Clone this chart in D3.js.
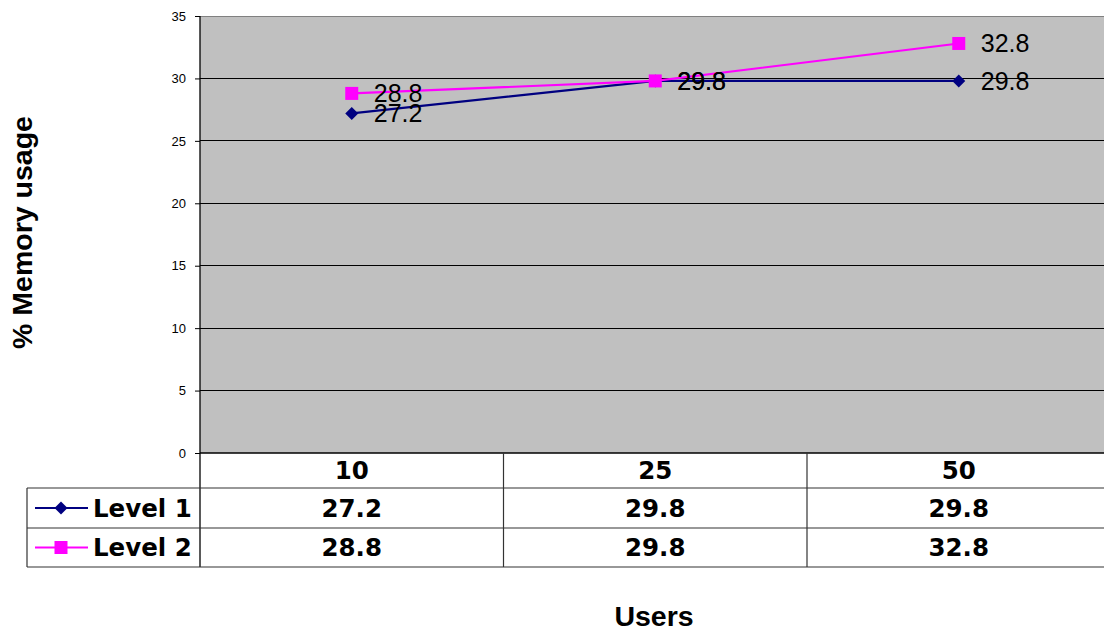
<!DOCTYPE html>
<html><head><meta charset="utf-8">
<script src="https://cdn.jsdelivr.net/npm/d3@7"></script>
<style>body{margin:0;background:#fff}svg{display:block}</style>
</head><body>
<svg id="c" width="1104" height="633"></svg>
<script>
const categories = ["10", "25", "50"];
const level1 = [27.2, 29.8, 29.8];
const level2 = [28.8, 29.8, 32.8];
const seriesNames = ["Level 1", "Level 2"];
const yTicks = [0, 5, 10, 15, 20, 25, 30, 35];

const series = [
  {name: seriesNames[0], values: level1, color: "#000080", shape: "diamond"},
  {name: seriesNames[1], values: level2, color: "#FF00FF", shape: "square"}
];

(function () {
const svg = d3.select("#c");
const pL = 200, pR = 1110.5, pT = 16, pB = 453;
const x = d3.scaleBand().domain(categories).range([pL, pR]);
const y = d3.scaleLinear().domain([0, 35]).range([pB, pT]);
const cx = c => x(c) + x.bandwidth() / 2;

svg.append("rect").attr("x", pL).attr("y", pT).attr("width", 1104 - pL).attr("height", pB - pT).attr("fill", "#C0C0C0");

svg.append("g").selectAll("line").data(yTicks.filter(t => t > 0)).join("line")
  .attr("x1", pL).attr("x2", 1104).attr("y1", d => y(d)).attr("y2", d => y(d))
  .attr("stroke", d => d === 35 ? "#808080" : "#000").attr("stroke-width", 1).attr("shape-rendering", "crispEdges");

const yAxis = d3.axisLeft(y).tickValues(yTicks).tickSize(5).tickPadding(9);
const ga = svg.append("g").attr("transform", `translate(${pL},0)`).call(yAxis);
ga.select(".domain").remove();
ga.selectAll(".tick line").attr("stroke", "#000");
ga.selectAll("text").attr("font-family", "Arial, 'Liberation Sans', sans-serif").attr("font-size", 13).attr("fill", "#000");
svg.append("line").attr("x1", pL).attr("x2", pL).attr("y1", pT).attr("y2", 567).attr("stroke", "#000").attr("stroke-width", 1.3);
svg.append("line").attr("x1", pL).attr("x2", 1104).attr("y1", pB).attr("y2", pB).attr("stroke", "#000").attr("stroke-width", 1.5);

const line = d3.line().x((d, i) => cx(categories[i])).y(d => y(d));
function marker(g, shape, color, px, py, s) {
  if (shape === "diamond") {
    g.append("path").attr("d", `M${px},${py - s}L${px + s},${py}L${px},${py + s}L${px - s},${py}Z`).attr("fill", color);
  } else {
    g.append("rect").attr("x", px - s).attr("y", py - s).attr("width", 2 * s).attr("height", 2 * s).attr("fill", color);
  }
}
series.forEach(s => {
  svg.append("path").datum(s.values).attr("d", line).attr("fill", "none").attr("stroke", s.color).attr("stroke-width", 2.2);
  const g = svg.append("g");
  s.values.forEach((v, i) => marker(g, s.shape, s.color, cx(categories[i]), y(v), 6.5));
});
series.forEach(s => {
  svg.append("g").selectAll("text").data(s.values).join("text")
    .attr("x", (d, i) => cx(categories[i]) + 22).attr("y", d => y(d))
    .attr("dy", "0.36em")
    .attr("font-family", "Arial, 'Liberation Sans', sans-serif").attr("font-size", 25).attr("fill", "#000")
    .text(d => d.toFixed(1));
});

const rowY = [pB, 488, 528, 567];
const tfont = "Verdana, 'DejaVu Sans', sans-serif";
const tsize = 24.5;
[488, 528, 567].forEach(yy => {
  svg.append("line").attr("x1", 27).attr("x2", 1104).attr("y1", yy).attr("y2", yy).attr("stroke", "#333").attr("stroke-width", 1.2);
});
svg.append("line").attr("x1", 27).attr("x2", 27).attr("y1", 488).attr("y2", 567).attr("stroke", "#333").attr("stroke-width", 1.2);
categories.forEach((c, i) => {
  if (i > 0) svg.append("line").attr("x1", x(c)).attr("x2", x(c)).attr("y1", pB).attr("y2", 567).attr("stroke", "#333").attr("stroke-width", 1.2);
});
svg.append("g").selectAll("text").data(categories).join("text")
  .attr("x", d => cx(d)).attr("y", (rowY[0] + rowY[1]) / 2).attr("dy", "0.36em").attr("text-anchor", "middle")
  .attr("font-family", tfont).attr("font-weight", "bold").attr("font-size", tsize).text(d => d);
series.forEach((s, r) => {
  const ym = (rowY[r + 1] + rowY[r + 2]) / 2;
  svg.append("g").selectAll("text").data(s.values).join("text")
    .attr("x", (d, i) => cx(categories[i])).attr("y", ym).attr("dy", "0.36em").attr("text-anchor", "middle")
    .attr("font-family", tfont).attr("font-weight", "bold").attr("font-size", tsize).text(d => d.toFixed(1));
  svg.append("line").attr("x1", 35).attr("x2", 88).attr("y1", ym).attr("y2", ym).attr("stroke", s.color).attr("stroke-width", 2.2);
  marker(svg, s.shape, s.color, 61, ym, 6.5);
  svg.append("text").attr("x", 93).attr("y", ym).attr("dy", "0.36em")
    .attr("font-family", tfont).attr("font-weight", "bold").attr("font-size", tsize).text(s.name);
});

svg.append("text").attr("transform", "translate(32,232.5) rotate(-90)").attr("text-anchor", "middle")
  .attr("font-family", "Arial, 'Liberation Sans', sans-serif").attr("font-weight", "bold").attr("font-size", 28.5).text("% Memory usage");
svg.append("text").attr("x", 654).attr("y", 626).attr("text-anchor", "middle")
  .attr("font-family", "Arial, 'Liberation Sans', sans-serif").attr("font-weight", "bold").attr("font-size", 28.5).text("Users");
})();
</script>
</body></html>
